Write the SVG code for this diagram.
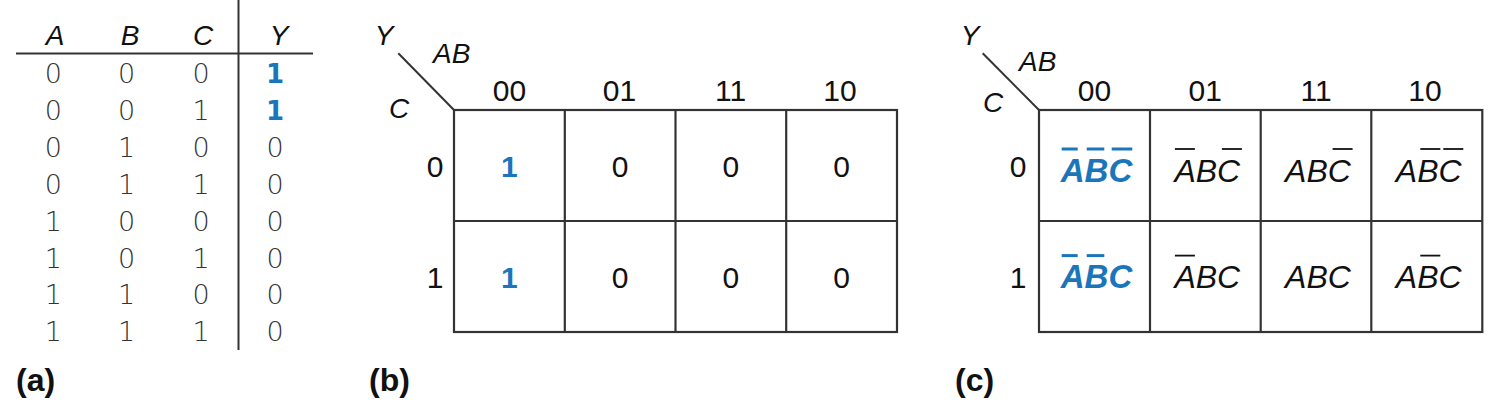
<svg xmlns="http://www.w3.org/2000/svg" width="1506" height="412" viewBox="0 0 1506 412">
<style>
  .bg{fill:#ffffff}
  .rule{stroke:#333;stroke-width:2;fill:none}
  .grid{stroke:#333;stroke-width:2.2;fill:none}
  .hdr{font-family:"Liberation Sans",Arial,sans-serif;font-style:italic;font-size:28px;fill:#111}
  .tt{font-family:"DejaVu Sans",sans-serif;font-weight:200;font-size:27px;fill:#333;text-anchor:middle}
  .ttb{font-family:"DejaVu Sans",sans-serif;font-weight:bold;font-size:26px;fill:#1b75bb;text-anchor:middle}
  .num{font-family:"Liberation Sans",Arial,sans-serif;font-size:30px;fill:#111;text-anchor:middle}
  .numb{font-family:"Liberation Sans",Arial,sans-serif;font-weight:bold;font-size:30px;fill:#1b75bb;text-anchor:middle}
  .lbl{font-family:"Liberation Sans",Arial,sans-serif;font-weight:bold;font-size:32px;fill:#111}
  .term{font-family:"Liberation Sans",Arial,sans-serif;font-style:italic;font-size:32px;fill:#111;text-anchor:middle}
  .termb{font-family:"Liberation Sans",Arial,sans-serif;font-style:italic;font-weight:bold;font-size:33px;fill:#1b75bb;text-anchor:middle}
  .bar{stroke:#111;stroke-width:1.8}
  .barb{stroke:#1b75bb;stroke-width:3}
</style>
<rect class="bg" x="0" y="0" width="1506" height="412"/>

<!-- (a) truth table -->
<g id="truth-table">
  <line class="rule" x1="16" y1="53.5" x2="313" y2="53.5"/>
  <line class="rule" x1="238.5" y1="0" x2="238.5" y2="350"/>
  <text class="hdr" x="55" y="45" text-anchor="middle">A</text>
  <text class="hdr" x="130" y="45" text-anchor="middle">B</text>
  <text class="hdr" x="203" y="45" text-anchor="middle">C</text>
  <text class="hdr" x="279" y="45" text-anchor="middle">Y</text>
  <g id="tt-rows">
    <text class="tt" x="53.3" y="83">0</text><text class="tt" x="126.7" y="83">0</text><text class="tt" x="201" y="83">0</text><text class="ttb" x="275" y="83">1</text>
    <text class="tt" x="53.3" y="119.9">0</text><text class="tt" x="126.7" y="119.9">0</text><text class="tt" x="201" y="119.9">1</text><text class="ttb" x="275" y="119.9">1</text>
    <text class="tt" x="53.3" y="156.8">0</text><text class="tt" x="126.7" y="156.8">1</text><text class="tt" x="201" y="156.8">0</text><text class="tt" x="275" y="156.8">0</text>
    <text class="tt" x="53.3" y="193.7">0</text><text class="tt" x="126.7" y="193.7">1</text><text class="tt" x="201" y="193.7">1</text><text class="tt" x="275" y="193.7">0</text>
    <text class="tt" x="53.3" y="230.6">1</text><text class="tt" x="126.7" y="230.6">0</text><text class="tt" x="201" y="230.6">0</text><text class="tt" x="275" y="230.6">0</text>
    <text class="tt" x="53.3" y="267.5">1</text><text class="tt" x="126.7" y="267.5">0</text><text class="tt" x="201" y="267.5">1</text><text class="tt" x="275" y="267.5">0</text>
    <text class="tt" x="53.3" y="304.4">1</text><text class="tt" x="126.7" y="304.4">1</text><text class="tt" x="201" y="304.4">0</text><text class="tt" x="275" y="304.4">0</text>
    <text class="tt" x="53.3" y="341.3">1</text><text class="tt" x="126.7" y="341.3">1</text><text class="tt" x="201" y="341.3">1</text><text class="tt" x="275" y="341.3">0</text>
  </g>
  <text class="lbl" x="16" y="391">(a)</text>
</g>

<!-- (b) K-map with values -->
<g id="kmap-b">
  <line class="rule" x1="398.3" y1="53.3" x2="454" y2="110"/>
  <text class="hdr" x="384" y="45" text-anchor="middle">Y</text>
  <text class="hdr" x="433" y="63">AB</text>
  <text class="hdr" x="389" y="118">C</text>
  <text class="num" x="509.5" y="101">00</text>
  <text class="num" x="619.5" y="101">01</text>
  <text class="num" x="730.5" y="101">11</text>
  <text class="num" x="840" y="101">10</text>
  <text class="num" x="435" y="177">0</text>
  <text class="num" x="435" y="288">1</text>
  <g id="kmap-b-grid">
    <rect class="grid" x="454" y="110" width="443" height="222"/>
    <line class="grid" x1="454" y1="221" x2="897" y2="221"/>
    <line class="grid" x1="564.8" y1="110" x2="564.8" y2="332"/>
    <line class="grid" x1="675.5" y1="110" x2="675.5" y2="332"/>
    <line class="grid" x1="786.2" y1="110" x2="786.2" y2="332"/>
  </g>
  <g id="kmap-b-cells">
    <text class="numb" x="509.4" y="177">1</text>
    <text class="num" x="620.1" y="177">0</text>
    <text class="num" x="730.9" y="177">0</text>
    <text class="num" x="841.6" y="177">0</text>
    <text class="numb" x="509.4" y="288">1</text>
    <text class="num" x="620.1" y="288">0</text>
    <text class="num" x="730.9" y="288">0</text>
    <text class="num" x="841.6" y="288">0</text>
  </g>
  <text class="lbl" x="369" y="391">(b)</text>
</g>

<!-- (c) K-map with minterms -->
<g id="kmap-c">
  <line class="rule" x1="982.7" y1="53.3" x2="1039" y2="110"/>
  <text class="hdr" x="970" y="45" text-anchor="middle">Y</text>
  <text class="hdr" x="1019" y="70.7">AB</text>
  <text class="hdr" x="983" y="111.7">C</text>
  <text class="num" x="1094.5" y="101">00</text>
  <text class="num" x="1205.3" y="101">01</text>
  <text class="num" x="1316" y="101">11</text>
  <text class="num" x="1425" y="101">10</text>
  <text class="num" x="1018" y="177">0</text>
  <text class="num" x="1018" y="288">1</text>
  <g id="kmap-c-grid">
    <rect class="grid" x="1039" y="110" width="443.3" height="222"/>
    <line class="grid" x1="1039" y1="221" x2="1482.3" y2="221"/>
    <line class="grid" x1="1150" y1="110" x2="1150" y2="332"/>
    <line class="grid" x1="1260.7" y1="110" x2="1260.7" y2="332"/>
    <line class="grid" x1="1371.3" y1="110" x2="1371.3" y2="332"/>
  </g>
  <g id="cell-c00">
    <text class="termb" x="1096.5" y="181.7">ABC</text>
    <line class="barb" x1="1061.7" y1="149" x2="1077.7" y2="149"/>
    <line class="barb" x1="1086.7" y1="149" x2="1104.3" y2="149"/>
    <line class="barb" x1="1111.7" y1="149" x2="1132.3" y2="149"/>
  </g>
  <g id="cell-c01">
    <text class="term" x="1207.3" y="181.7">ABC</text>
    <line class="bar" x1="1174.9" y1="149" x2="1194.9" y2="149"/>
    <line class="bar" x1="1221.9" y1="149" x2="1241.9" y2="149"/>
  </g>
  <g id="cell-c02">
    <text class="term" x="1318" y="181.7">ABC</text>
    <line class="bar" x1="1332.6" y1="149" x2="1352.6" y2="149"/>
  </g>
  <g id="cell-c03">
    <text class="term" x="1428.7" y="181.7">ABC</text>
    <line class="bar" x1="1420.3" y1="149" x2="1440.3" y2="149"/>
    <line class="bar" x1="1443.3" y1="149" x2="1463.3" y2="149"/>
  </g>
  <g id="cell-c10">
    <text class="termb" x="1096.5" y="288.3">ABC</text>
    <line class="barb" x1="1061.7" y1="255.6" x2="1077.7" y2="255.6"/>
    <line class="barb" x1="1086.7" y1="255.6" x2="1104.3" y2="255.6"/>
  </g>
  <g id="cell-c11">
    <text class="term" x="1207.3" y="288.3">ABC</text>
    <line class="bar" x1="1174.9" y1="255.6" x2="1194.9" y2="255.6"/>
  </g>
  <g id="cell-c12">
    <text class="term" x="1318" y="288.3">ABC</text>
  </g>
  <g id="cell-c13">
    <text class="term" x="1428.7" y="288.3">ABC</text>
    <line class="bar" x1="1420.3" y1="255.6" x2="1440.3" y2="255.6"/>
  </g>
  <text class="lbl" x="955" y="391">(c)</text>
</g>
<g id="connectors"></g>
</svg>
